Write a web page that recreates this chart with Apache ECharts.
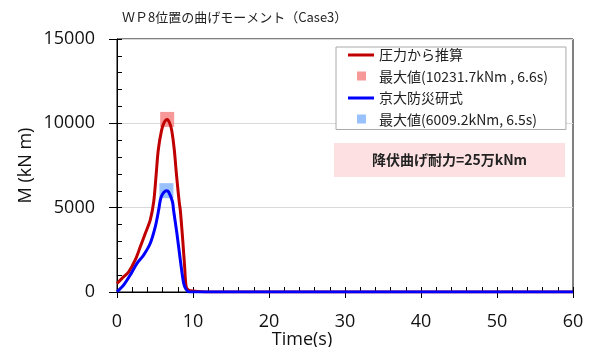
<!DOCTYPE html>
<html>
<head>
<meta charset="utf-8">
<script src="https://cdn.jsdelivr.net/npm/echarts@6/dist/echarts.min.js"></script>
<style>
  html, body { margin: 0; padding: 0; background: #fff; }
  #chart { width: 597px; height: 347px; }
</style>
</head>
<body>
<div id="chart"></div>
<script>
// Bending moment at WP8 over time, two estimation methods
const titleText = 'ＷＰ8位置の曲げモーメント（Case3）';
const nameRed = '圧力から推算';
const nameRedMax = '最大値(10231.7kNm , 6.6s)';
const nameBlue = '京大防災研式';
const nameBlueMax = '最大値(6009.2kNm, 6.5s)';
const yieldText = '降伏曲げ耐力=25万kNm';

const xTicks = [0, 10, 20, 30, 40, 50, 60];
const yTicks = [0, 5000, 10000, 15000];

// 圧力から推算 (kNm)
const timeRed   = [0, 0.66, 1.54, 2.4, 3.07, 3.73, 4.38, 4.83, 5.13, 5.43, 5.87, 6.2, 6.6, 6.9, 7.19, 7.54, 7.85, 8.2, 8.33, 8.65, 8.9, 9.1, 9.4, 10, 12, 60];
const momentRed = [500, 810, 1200, 1900, 2690, 3480, 4270, 5350, 6840, 8420, 9600, 10050, 10231.7, 10050, 9600, 8420, 6840, 5280, 4860, 3080, 1500, 310, 120, 60, 0, 0];

// 京大防災研式 (kNm)
const timeBlue   = [0, 0.88, 1.75, 2.63, 3.5, 4.38, 5.04, 5.48, 5.7, 5.87, 6.2, 6.5, 6.8, 7.3, 7.44, 7.88, 8.33, 8.77, 9.08, 9.5, 60];
const momentBlue = [20, 415, 1010, 1700, 2190, 2890, 3870, 4860, 5450, 5700, 5930, 6009.2, 5930, 5350, 4860, 3480, 1900, 515, 160, 0, 0];

// Peak values
const peakRed  = [6.6, 10231.7];
const peakBlue = [6.5, 6009.2];

const pair = (t, v) => t.map((x, i) => [x, v[i]]);

const font = 'Noto Sans CJK JP';
const numFont = 'Open Sans';
const chart = echarts.init(document.getElementById('chart'), null, { renderer: 'canvas' });

const gridBox = { left: 117, right: 24, top: 39, bottom: 55, outerBoundsMode: 'none' };

chart.setOption({
  animation: false,
  backgroundColor: '#fff',
  title: {
    text: titleText,
    left: 117, top: 6,
    textStyle: { fontFamily: font, fontSize: 13, fontWeight: 'normal', color: '#222' }
  },
  grid: [
    Object.assign({ show: true, borderColor: '#000', borderWidth: 1, backgroundColor: 'transparent' }, gridBox),
    // overlay grid carrying the inward minor ticks
    Object.assign({ show: false }, gridBox)
  ],
  legend: {
    orient: 'vertical',
    left: 336, top: 47,
    padding: [1, 18, 3, 12],
    itemGap: 7.5,
    itemWidth: 26, itemHeight: 14,
    backgroundColor: '#fff',
    borderColor: '#aaa', borderWidth: 1,
    textStyle: { fontFamily: font, fontSize: 14, color: '#222' },
    data: [
      { name: nameRed, icon: 'path://M0,0H26V3H0Z' },
      { name: nameRedMax, icon: 'path://M0,0M26,14M9,2H18V11H9Z' },
      { name: nameBlue, icon: 'path://M0,0H26V3H0Z' },
      { name: nameBlueMax, icon: 'path://M0,0M26,14M9,2H18V11H9Z' }
    ]
  },
  xAxis: [
    {
      type: 'value', gridIndex: 0, min: 0, max: 60, interval: 10, position: 'bottom',
      axisLine: { show: true, onZero: false, lineStyle: { color: '#000', width: 1 } },
      axisTick: { show: true, inside: false, length: 6, lineStyle: { color: '#000' } },
      axisLabel: {
        fontFamily: numFont, fontSize: 18, color: '#111', margin: 21,
        formatter: v => xTicks.includes(v) ? String(v) : ''
      },
      splitLine: { show: false },
      name: 'Time(s)', nameLocation: 'middle', nameGap: 39, nameMoveOverlap: false,
      nameTextStyle: { fontFamily: numFont, fontSize: 18, color: '#111', padding: [0, 86, 0, 0] }
    },
    {
      type: 'value', gridIndex: 1, min: 0, max: 60, interval: 2, position: 'bottom',
      axisLine: { show: false, onZero: false },
      axisTick: { show: true, inside: true, length: 5, lineStyle: { color: '#000' } },
      axisLabel: { show: false },
      splitLine: { show: false }
    }
  ],
  yAxis: [
    {
      type: 'value', gridIndex: 0, min: 0, max: 15000, interval: 5000, position: 'left',
      axisLine: { show: true, onZero: false, lineStyle: { color: '#000', width: 1 } },
      axisTick: { show: true, inside: false, length: 8, lineStyle: { color: '#000' } },
      axisLabel: {
        fontFamily: numFont, fontSize: 18, color: '#111', margin: 22,
        formatter: v => yTicks.includes(v) ? String(v) : ''
      },
      splitLine: { show: true, lineStyle: { color: '#d9d9d9', width: 1 } },
      name: 'M (kN m)', nameLocation: 'middle', nameGap: 82, nameRotate: 90, nameMoveOverlap: false,
      nameTextStyle: { fontFamily: numFont, fontSize: 18, color: '#111' }
    },
    {
      type: 'value', gridIndex: 1, min: 0, max: 15000, interval: 1000, position: 'left',
      axisLine: { show: false, onZero: false },
      axisTick: { show: true, inside: true, length: 5, lineStyle: { color: '#000' } },
      axisLabel: { show: false },
      splitLine: { show: false }
    }
  ],
  graphic: [
    {
      type: 'group', left: 334, top: 143, z: 10,
      children: [
        { type: 'rect', shape: { x: 0, y: 0, width: 231, height: 34 }, style: { fill: '#fde1e2' } },
        {
          type: 'text', x: 115.5, y: 17,
          style: {
            text: yieldText, fontFamily: font, fontSize: 14, fontWeight: 'bold',
            fill: '#222', align: 'center', verticalAlign: 'middle'
          }
        }
      ]
    }
  ],
  series: [
    {
      name: nameRedMax, type: 'scatter', xAxisIndex: 0, yAxisIndex: 0,
      symbol: 'rect', symbolSize: [14, 15],
      itemStyle: { color: '#f58080' }, z: 2, data: [peakRed]
    },
    {
      name: nameBlueMax, type: 'scatter', xAxisIndex: 0, yAxisIndex: 0,
      symbol: 'rect', symbolSize: [14, 15],
      itemStyle: { color: '#80b3fb' }, z: 2, data: [peakBlue]
    },
    {
      name: nameRed, type: 'line', xAxisIndex: 0, yAxisIndex: 0,
      showSymbol: false, symbol: 'none', smooth: 0.3,
      lineStyle: { color: '#c00000', width: 3 }, itemStyle: { color: '#c00000' },
      z: 4, data: pair(timeRed, momentRed)
    },
    {
      name: nameBlue, type: 'line', xAxisIndex: 0, yAxisIndex: 0,
      showSymbol: false, symbol: 'none', smooth: 0.3,
      lineStyle: { color: '#0000ff', width: 3 }, itemStyle: { color: '#0000ff' },
      z: 5, data: pair(timeBlue, momentBlue)
    }
  ]
});
</script>
</body>
</html>
